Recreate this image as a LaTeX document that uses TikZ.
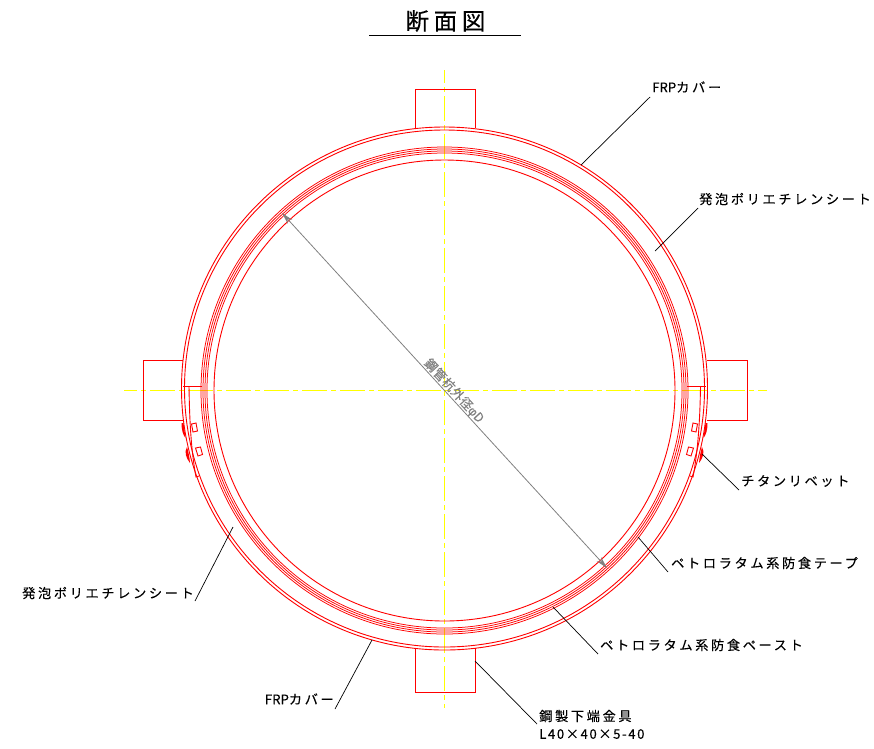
\documentclass[tikz,border=0pt]{standalone}
\usepackage{fontspec}
\setmainfont{Noto Sans CJK JP}
\newfontfamily\lblfont[LetterSpace=20,FakeBold=0.2]{Noto Sans CJK JP}
\newfontfamily\ttlfont[LetterSpace=20,FakeBold=0.3]{Noto Sans CJK JP}
\newfontfamily\latfont[LetterSpace=0,FakeBold=0.2]{Noto Sans CJK JP}
\newfontfamily\numfont[LetterSpace=12,FakeBold=0.2]{Noto Sans CJK JP}
\newfontfamily\dimfont[LetterSpace=4,FakeBold=0.2]{Noto Sans CJK JP}
\newfontfamily\phifont[FakeBold=0.2,LetterSpace=20]{Liberation Sans}
\definecolor{cred}{RGB}{255,0,0}
\definecolor{cyel}{RGB}{255,255,0}
\definecolor{cgry}{RGB}{128,128,128}
\usetikzlibrary{arrows.meta}
\tikzset{
  part/.style={draw=cred,line width=0.9pt},
  bandline/.style={draw=cred,line width=0.75pt},
  axisline/.style={draw=cyel,line width=1.5pt,dash pattern=on 25pt off 4pt on 5pt off 4pt,dash phase=12pt},
  leader/.style={draw=black,line width=0.7pt},
  lbl/.style={inner sep=0pt,font=\lblfont\fontsize{13.2}{15}\selectfont,text=black},
  dimline/.style={draw=cgry,line width=0.8pt,{Stealth[length=12pt,width=6pt,inset=4pt]}-{Stealth[length=12pt,width=6pt,inset=4pt]}},
}
\begin{document}
\begin{tikzpicture}[x=1pt,y=-1pt]
\useasboundingbox (0,0) rectangle (874,748);
% title
\node[inner sep=0pt,font=\ttlfont\fontsize{23.5}{25}\selectfont] (title) at (445.5,21) {断面図};
\draw[leader] (369,35) -- (521,35);
% axes
\draw[axisline] (124,390.5) -- (767,390.5);
\draw[axisline] (444.5,70) -- (444.5,708);
% lugs
\draw[part] (415,128) |- (475,89) -- (475,128);
\draw[part] (415,648) |- (475,692) -- (475,648);
\draw[part] (183,360) -| (143,420) -- (183,420);
\draw[part] (707,360) -| (747,420) -- (707,420);
% rings
\draw[part] (444.5,388.5) ellipse [x radius=263,y radius=261.5];
\draw[part] (444.5,388.5) ellipse [x radius=260,y radius=258.5];
\draw[bandline] (444.5,390.5) circle [radius=243.5];
\draw[bandline] (444.5,390.5) circle [radius=241.5];
\draw[bandline] (444.5,390.5) circle [radius=239.5];
\draw[bandline] (444.5,390.5) circle [radius=237.5];
\draw[part] (444.5,390.5) circle [radius=230.5];
% inner straps
\draw[part] (202,386) -- (183,386);
\draw[part] (687,386) -- (706,386);
\draw[part] (189,386) .. controls (189.5,420) and (191,450) .. (196,477) -- (199,476);
\draw[part] (700.5,386) .. controls (700,420) and (698,450) .. (693,477) -- (690,476);
% clips
\draw[part] (191.5,424) -- (196,423) -- (197.5,431) -- (193,432) -- cycle;
\draw[part] (195.5,448) -- (200.5,447) -- (202.5,454.5) -- (198,456) -- cycle;
\draw[part] (697.5,424) -- (693,423) -- (691.5,431) -- (696,432) -- cycle;
\draw[part] (693.5,448) -- (688.5,447) -- (686.5,454.5) -- (691,456) -- cycle;
% rivets
\fill[cred] (181.5,423) .. controls (181.5,430) and (183,435) .. (185.5,438) .. controls (185,432) and (184,428) .. (183.5,423) -- cycle;
\fill[cred] (187,447) .. controls (184,452) and (186,458) .. (190,463) .. controls (189.5,457) and (188.5,452) .. (187,447) -- cycle;
\fill[cred] (707.5,423) .. controls (707.5,430) and (706,435) .. (703.5,438) .. controls (704,432) and (705,428) .. (705.5,423) -- cycle;
\fill[cred] (702,447) .. controls (705,452) and (703,458) .. (699,463) .. controls (699.5,457) and (700.5,452) .. (702,447) -- cycle;
% dimension
\coordinate (da) at (282,213);
\coordinate (db) at (607,568);
\draw[dimline] (da) -- (db);
\node[inner sep=0pt,rotate=-47.5,text=cgry,font=\dimfont\fontsize{12.5}{14}\selectfont] (dim) at (454,391) {鋼管杭外径{\phifont φ}D};
% labels
\node[lbl,anchor=west] (l1) at (652,87) {{\latfont FRP}カバー};
\coordinate (p1) at (581,165);
\draw[leader] (p1) -- (650,97);
\node[lbl,anchor=west] (l2) at (699,199) {発泡ポリエチレンシート};
\coordinate (p2) at (655,251);
\draw[leader] (p2) -- (698,208);
\node[lbl,anchor=west] (l3) at (741,481) {チタンリベット};
\coordinate (p3) at (702,454);
\draw[leader] (p3) -- (739,490);
\node[lbl,anchor=west] (l4) at (671,563) {ペトロラタム系防食テープ};
\coordinate (p4) at (638,537);
\draw[leader] (p4) -- (668,572);
\node[lbl,anchor=west] (l5) at (600,645) {ペトロラタム系防食ペースト};
\coordinate (p5) at (553,607);
\draw[leader] (p5) -- (598,654);
\node[lbl,anchor=west] (l6) at (539,716) {鋼製下端金具};
\node[lbl,anchor=west,font=\numfont\fontsize{13.2}{15}\selectfont] (l7) at (539,734) {L40×40×5-40};
\coordinate (p6) at (475,661);
\draw[leader] (p6) -- (537,724);
\node[lbl,anchor=east] (l8) at (334,699) {{\latfont FRP}カバー};
\coordinate (p8) at (372,640);
\draw[leader] (p8) -- (335,709);
\node[lbl,anchor=east] (l9) at (194,593) {発泡ポリエチレンシート};
\coordinate (p9) at (233,527);
\draw[leader] (p9) -- (195,601);
\end{tikzpicture}
\end{document}
